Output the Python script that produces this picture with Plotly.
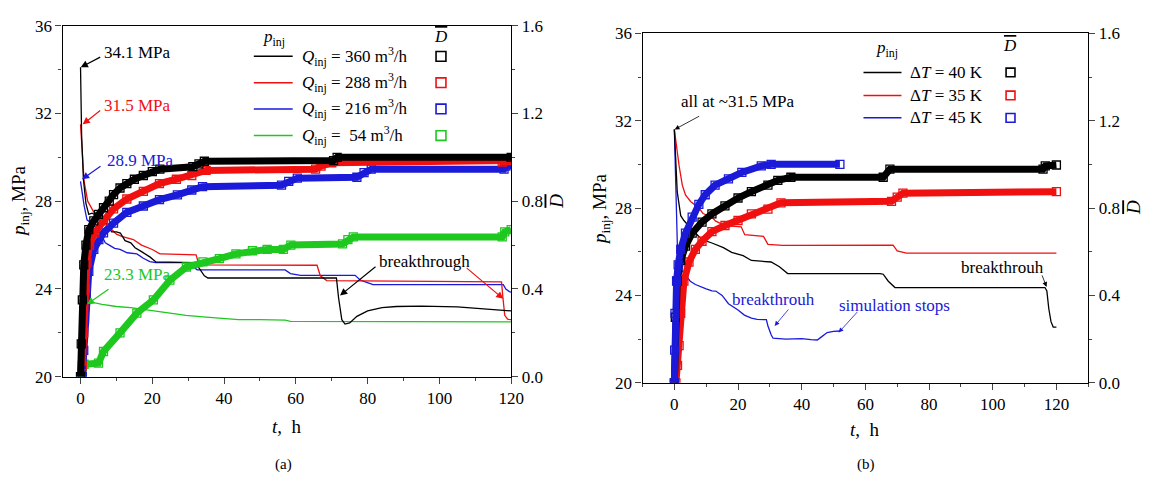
import plotly.graph_objects as go

# ---------------- Panel (a): injection pressure p_inj (MPa) ----------------
t_a_360 = [0, 0.3, 0.8, 1.5, 2.3, 3.2, 5, 7, 8.7, 10, 11.1, 12.4, 14, 15.2, 17, 19.4, 21, 31, 32, 34.5, 35.5, 71.3, 71.9, 72.8, 73.7, 75, 77, 80, 84, 88, 95, 105, 120]
p_a_360 = [34.1, 31.0, 29.0, 27.9, 27.4, 27.45, 27.3, 27.0, 26.6, 26.6, 26.55, 26.2, 26.1, 25.88, 25.7, 25.45, 25.23, 25.23, 25.2, 24.6, 24.5, 24.5, 23.6, 22.6, 22.4, 22.45, 22.75, 23.0, 23.15, 23.2, 23.22, 23.18, 23.0]

t_a_288 = [0, 0.4, 1, 2, 3.7, 5, 6, 7.5, 8.7, 10, 11.5, 14.7, 17, 20, 22.1, 22.8, 32.2, 33, 65.9, 66.8, 68.6, 117.3, 117.7, 118.2, 119, 120]
p_a_288 = [31.5, 30.2, 28.9, 28.0, 27.5, 27.45, 27.2, 26.9, 26.7, 26.5, 26.4, 26.25, 26.0, 25.8, 25.6, 25.6, 25.55, 25.1, 25.08, 24.6, 24.38, 24.32, 23.6, 22.8, 22.62, 22.6]

t_a_216 = [0, 0.4, 1, 1.8, 3, 5, 6.9, 8, 9.5, 11, 13, 15.7, 17.5, 19.3, 21, 30, 31.5, 32.5, 57, 58.5, 61.3, 76.5, 78, 81.5, 117.8, 118.5, 119.5, 120]
p_a_216 = [28.9, 28.4, 27.8, 27.15, 27.0, 26.7, 26.1, 26.0, 25.85, 25.8, 25.65, 25.6, 25.4, 25.25, 25.2, 25.2, 25.0, 24.87, 24.87, 24.7, 24.62, 24.62, 24.4, 24.2, 24.2, 24.0, 23.88, 23.85]

t_a_54 = [1, 2, 3.7, 6, 10, 14, 18.3, 22, 26, 29.4, 35, 40, 44, 50, 57, 58.5, 70, 90, 120]
p_a_54 = [23.25, 23.3, 23.38, 23.3, 23.2, 23.15, 23.05, 22.95, 22.85, 22.8, 22.72, 22.65, 22.6, 22.6, 22.58, 22.52, 22.52, 22.53, 22.5]

# ---------------- Panel (a): D-bar ----------------
tD_a_360 = [0, 0.2, 0.5, 0.9, 1.5, 2.3, 3.7, 5, 6.4, 8, 9.2, 11, 12.9, 15, 17.5, 20, 22.1, 31.3, 33, 34.5, 70.5, 71.5, 120]
D_a_360 = [0, 0.15, 0.35, 0.51, 0.6, 0.67, 0.71, 0.74, 0.77, 0.8, 0.83, 0.86, 0.88, 0.9, 0.917, 0.935, 0.946, 0.957, 0.97, 0.982, 0.985, 1.0, 1.0]

tD_a_288 = [0.5, 0.9, 1.3, 1.8, 2.5, 4, 6.4, 9.2, 12.9, 17.5, 22, 26.7, 31, 35, 65.5, 67, 70, 117.5, 118, 120]
D_a_288 = [0.05, 0.2, 0.4, 0.52, 0.6, 0.656, 0.71, 0.765, 0.81, 0.845, 0.88, 0.9, 0.917, 0.94, 0.946, 0.96, 0.975, 0.978, 0.985, 0.985]

tD_a_216 = [0.5, 0.9, 1.1, 1.6, 2.3, 3.7, 5.1, 6.4, 9.2, 12.9, 17.5, 22, 27, 31, 34, 56, 58, 60.4, 77, 79, 81, 118, 118.5, 120]
D_a_216 = [0.0, 0.12, 0.26, 0.38, 0.48, 0.58, 0.625, 0.656, 0.70, 0.749, 0.778, 0.807, 0.829, 0.851, 0.866, 0.873, 0.89, 0.905, 0.909, 0.93, 0.946, 0.946, 0.96, 0.965]

tD_a_54 = [0, 0.5, 1, 5, 6.4, 11, 15.7, 20.3, 24.9, 29.5, 34.1, 38.7, 43.3, 47.9, 52, 56.5, 58.6, 73, 74.5, 76, 117.5, 118.2, 120]
D_a_54 = [0, 0.02, 0.057, 0.062, 0.115, 0.2, 0.29, 0.35, 0.44, 0.5, 0.523, 0.538, 0.56, 0.574, 0.58, 0.58, 0.60, 0.605, 0.625, 0.637, 0.637, 0.66, 0.67]

# ---------------- Panel (b): injection pressure ----------------
t_b_40 = [0, 0.5, 0.9, 2, 3, 5, 7, 8.7, 11.8, 15.4, 18, 21.6, 24.2, 30.4, 33, 35.6, 64.6, 65.6, 67.2, 69.3, 116.4, 117, 117.6, 118.3, 119, 120]
p_b_40 = [31.6, 30.2, 28.75, 27.65, 27.43, 27.1, 26.8, 26.55, 26.4, 26.19, 25.97, 25.82, 25.6, 25.53, 25.31, 25.0, 25.0, 24.97, 24.65, 24.36, 24.36, 24.2, 23.4, 22.8, 22.55, 22.55]

t_b_35 = [0, 0.5, 1.5, 2.5, 3.5, 5.1, 7.7, 9, 11.8, 13, 15.9, 21, 22.1, 28, 29.4, 34, 68.7, 70, 72.9, 120]
p_b_35 = [31.6, 31.0, 29.93, 29.05, 28.6, 28.3, 28.0, 27.75, 27.58, 27.4, 27.2, 27.14, 26.78, 26.7, 26.34, 26.29, 26.3, 26.04, 25.94, 25.94]

t_b_45 = [0, 0.5, 1, 2, 3.5, 5, 6.6, 8.7, 10, 11.8, 13, 15, 17, 20, 22, 24.2, 26, 28.9, 29.4, 30.4, 31, 35, 40, 42.9, 44.9, 46, 48, 50, 52]
p_b_45 = [31.6, 28.0, 26.0, 25.2, 24.95, 24.65, 24.5, 24.36, 24.3, 24.21, 24.2, 24.0, 23.62, 23.33, 23.1, 22.96, 22.9, 22.89, 22.6, 22.2, 22.04, 22.0, 22.02, 21.98, 21.96, 22.08, 22.3, 22.35, 22.37]

# ---------------- Panel (b): D-bar ----------------
tD_b_40 = [0, 0.3, 0.9, 2, 3.5, 5.6, 8.7, 11.8, 15.9, 20, 24.2, 29.4, 32.5, 36.6, 65.6, 67.7, 115.8, 116.5, 120]
D_b_40 = [0, 0.3, 0.466, 0.56, 0.626, 0.685, 0.736, 0.773, 0.81, 0.846, 0.875, 0.905, 0.927, 0.941, 0.941, 0.978, 0.978, 0.993, 0.997]

tD_b_35 = [0.5, 1, 1.5, 2, 3, 4.6, 6.6, 8.7, 11.8, 15.9, 20, 24.2, 29.4, 33.5, 68.2, 70, 71.8, 120]
D_b_35 = [0, 0.08, 0.17, 0.318, 0.465, 0.553, 0.611, 0.648, 0.692, 0.72, 0.743, 0.773, 0.795, 0.824, 0.831, 0.85, 0.868, 0.875]

tD_b_45 = [0, 0.1, 0.2, 0.7, 1.2, 2, 3.5, 5.6, 7.7, 9.7, 12.8, 17, 21.2, 27.3, 30.4, 52]
D_b_45 = [0, 0.15, 0.318, 0.466, 0.54, 0.611, 0.685, 0.758, 0.817, 0.861, 0.905, 0.934, 0.963, 0.993, 1.0, 1.0]

# legend labels
labels_a = ["<i>Q</i><sub>inj</sub> = 360 m<sup>3</sup>/h", "<i>Q</i><sub>inj</sub> = 288 m<sup>3</sup>/h",
            "<i>Q</i><sub>inj</sub> = 216 m<sup>3</sup>/h", "<i>Q</i><sub>inj</sub> = &nbsp;54 m<sup>3</sup>/h"]
labels_b = ["Δ<i>T</i> = 40 K", "Δ<i>T</i> = 35 K", "Δ<i>T</i> = 45 K"]

BLACK, RED, BLUE, GREEN = "#000000", "#f01010", "#1a1ad8", "#1ec81e"
FONT = "Liberation Serif, Times New Roman, serif"
W, H = 1158, 486

fig = go.Figure()

def pline(t, p, c, xa, ya):
    fig.add_trace(go.Scatter(x=t, y=p, mode="lines", line=dict(color=c, width=1.3),
                             xaxis=xa, yaxis=ya, showlegend=False, hoverinfo="skip"))

def dline(t, d, c, xa, ya):
    fig.add_trace(go.Scatter(x=t, y=d, mode="lines+markers", line=dict(color=c, width=7),
                             marker=dict(symbol="square-open", size=8, color=c, line=dict(width=1.3, color=c)),
                             xaxis=xa, yaxis=ya, showlegend=False, hoverinfo="skip"))

# panel a
pline(t_a_54, p_a_54, GREEN, "x", "y")
pline(t_a_216, p_a_216, BLUE, "x", "y")
pline(t_a_288, p_a_288, RED, "x", "y")
pline(t_a_360, p_a_360, BLACK, "x", "y")
dline(tD_a_54, D_a_54, GREEN, "x", "y2")
dline(tD_a_216, D_a_216, BLUE, "x", "y2")
dline(tD_a_288, D_a_288, RED, "x", "y2")
dline(tD_a_360, D_a_360, BLACK, "x", "y2")
# panel b
pline(t_b_45, p_b_45, BLUE, "x2", "y3")
pline(t_b_35, p_b_35, RED, "x2", "y3")
pline(t_b_40, p_b_40, BLACK, "x2", "y3")
dline(tD_b_35, D_b_35, RED, "x2", "y4")
dline(tD_b_40, D_b_40, BLACK, "x2", "y4")
dline(tD_b_45, D_b_45, BLUE, "x2", "y4")

tickfont = dict(family=FONT, size=17, color="black")

def xax(domain, rng, anchor):
    return dict(domain=domain, range=rng, anchor=anchor, tick0=0, dtick=20, ticks="outside", ticklen=6,
                tickwidth=1.2, minor=dict(dtick=10, ticks="outside", ticklen=3, tickwidth=1.2),
                showline=True, linecolor="black", linewidth=1.3, mirror=True, showgrid=False,
                zeroline=False, tickfont=tickfont)

def yax(domain, anchor):
    return dict(domain=domain, range=[20, 36], anchor=anchor, tick0=20, dtick=4, ticks="outside", ticklen=6,
                tickwidth=1.2, minor=dict(dtick=2, ticks="outside", ticklen=3, tickwidth=1.2),
                showline=True, linecolor="black", linewidth=1.3, showgrid=False, zeroline=False,
                tickfont=tickfont)

def y2ax(over, anchor):
    return dict(overlaying=over, side="right", anchor=anchor, range=[0, 1.6], tick0=0, dtick=0.4,
                tickformat=".1f", ticks="outside", ticklen=6, tickwidth=1.2,
                minor=dict(dtick=0.2, ticks="outside", ticklen=3, tickwidth=1.2),
                showline=True, linecolor="black", linewidth=1.3, showgrid=False, zeroline=False,
                tickfont=tickfont)

dom_xa = [63.3 / W, 517 / W]
dom_ya = [1 - 382.7 / H, 1 - 17.3 / H]
dom_xb = [649.8 / W, 1100.6 / W]
dom_yb = [1 - 389 / H, 1 - 25.3 / H]

fig.update_layout(
    width=W, height=H, autosize=False, margin=dict(l=0, r=0, t=0, b=0),
    paper_bgcolor="white", plot_bgcolor="white", showlegend=False,
    font=dict(family=FONT, size=16, color="black"),
    xaxis=xax(dom_xa, [-5, 120], "y"),
    yaxis=yax(dom_ya, "x"),
    yaxis2=y2ax("y", "x"),
    xaxis2=xax(dom_xb, [-10, 130], "y3"),
    yaxis3=yax(dom_yb, "x2"),
    yaxis4=y2ax("y3", "x2"),
)

ann = []
shapes = []

def ptext(px, py, text, size=17, color="black", xanchor="center", yanchor="middle", angle=0):
    ann.append(dict(x=px / W, y=1 - py / H, xref="paper", yref="paper", text=text, showarrow=False,
                    xanchor=xanchor, yanchor=yanchor, textangle=angle,
                    font=dict(family=FONT, size=size, color=color)))

def dtext(x, y, xr, yr, text, color, size=17):
    ann.append(dict(x=x, y=y, xref=xr, yref=yr, text=text, showarrow=False, xanchor="left",
                    yanchor="middle", font=dict(family=FONT, size=size, color=color)))

def arrow(x, y, xr, yr, ax, ay, color, width=1.2, head=2, size=1.2):
    ann.append(dict(x=x, y=y, xref=xr, yref=yr, ax=ax, ay=ay, text="", showarrow=True,
                    arrowhead=head, arrowsize=size, arrowwidth=width, arrowcolor=color,
                    font=dict(family=FONT, size=12, color=color)))

DBAR = "<span style='text-decoration:overline'><i>D</i></span>"
PINJ = "<i>p</i><sub>inj</sub>"

# panel a annotations
dtext(6.0, 34.79, "x", "y", "34.1 MPa", BLACK)
arrow(0.05, 34.1, "x", "y", 21, -11, BLACK)
dtext(5.9, 32.38, "x", "y", "31.5 MPa", RED)
arrow(0.6, 31.5, "x", "y", 19, -15, RED)
dtext(6.9, 29.84, "x", "y", "28.9 MPa", BLUE)
arrow(0.4, 29.0, "x", "y", 20, -14, BLUE)
dtext(5.9, 24.64, "x", "y", "23.3 MPa", GREEN)
arrow(1.8, 23.3, "x", "y", 23, -16, GREEN)
dtext(82.5, 25.23, "x", "y", "breakthrough", BLACK)
arrow(72.3, 23.7, "x", "y", 37, -30, BLACK)
arrow(117.8, 23.55, "x", "y", -38, -32, RED)

# panel b annotations
dtext(1.46, 32.89, "x2", "y3", "all at ~31.5 MPa", BLACK)
arrow(0.1, 31.6, "x2", "y3", 26, -14, BLACK, width=0.8)
dtext(17.5, 23.8, "x2", "y3", "breakthrouh", BLUE)
arrow(31.5, 22.6, "x2", "y3", 15, -18, BLUE, width=0.8)
dtext(51.1, 23.55, "x2", "y3", "simulation stops", BLUE)
arrow(51.6, 22.3, "x2", "y3", 20, -22, BLUE, width=0.8)
dtext(89.4, 25.3, "x2", "y3", "breakthrouh", BLACK)
arrow(116.9, 24.39, "x2", "y3", -5, -13, BLACK, width=0.8)

# axis titles
ptext(20, 200, PINJ + ", MPa", size=19, angle=-90)
ptext(562, 200, DBAR, size=19, angle=-90)
ptext(290, 435, "<i>t</i>,  h", size=19)
ptext(287, 474, "(a)", size=15)
ptext(608, 208, PINJ + ", MPa", size=19, angle=-90)
ptext(1147, 207, DBAR, size=19, angle=-90)
ptext(875, 438, "<i>t</i>,  h", size=19)
ptext(876, 474, "(b)", size=15)

# legends (manual)
def legend(head_p, head_d, line_x0, line_x1, text_x, sq_x, ys, labels, colors, sq=10):
    ptext(head_p[0], head_p[1], PINJ, size=17)
    ptext(head_d[0], head_d[1], DBAR, size=17)
    for yy, lab, c in zip(ys, labels, colors):
        shapes.append(dict(type="line", xref="paper", yref="paper", x0=line_x0 / W, x1=line_x1 / W,
                           y0=1 - yy / H, y1=1 - yy / H, line=dict(color=c, width=1.5)))
        ptext(text_x, yy, lab, size=17, xanchor="left")
        shapes.append(dict(type="rect", xref="paper", yref="paper",
                           x0=(sq_x - sq / 2) / W, x1=(sq_x + sq / 2) / W,
                           y0=1 - (yy + sq / 2) / H, y1=1 - (yy - sq / 2) / H,
                           line=dict(color=c, width=1.6), fillcolor="rgba(0,0,0,0)"))

legend((277, 30), (446, 29), 256.7, 296, 303, 446, [49.3, 76.7, 104, 131.7], labels_a,
       [BLACK, RED, BLUE, GREEN], sq=10)
legend((897, 42), (1021, 38), 873.3, 911.7, 918, 1022, [66, 90, 113.3], labels_b,
       [BLACK, RED, BLUE], sq=9)

fig.update_layout(annotations=ann, shapes=shapes)
fig.write_html("out.html")
